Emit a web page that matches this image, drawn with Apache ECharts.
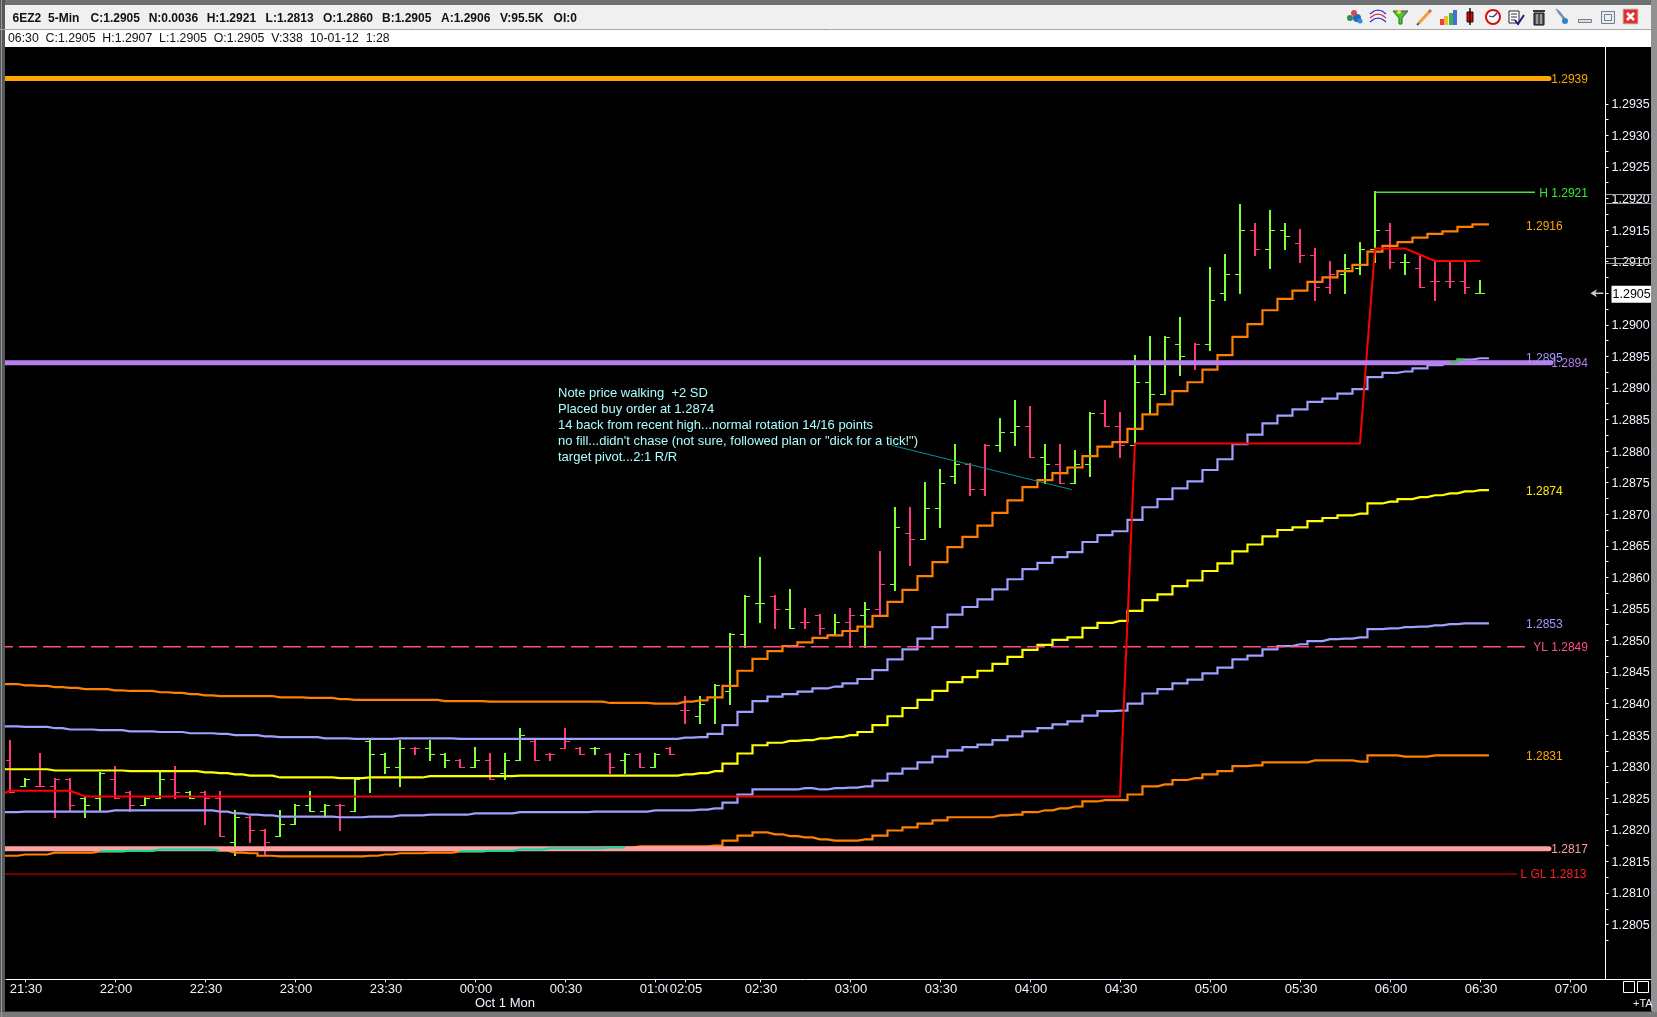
<!DOCTYPE html>
<html><head><meta charset="utf-8">
<style>html,body{margin:0;padding:0;background:#000;overflow:hidden}#c{width:1657px;height:1017px}</style>
<script src="https://cdn.jsdelivr.net/npm/echarts@6/dist/echarts.min.js"></script>
</head><body><div id="c"></div>
<script>
// ---- DATA ----
const barHigh=[1.2834,1.2828,1.2832,1.2828,1.2828,1.2825,1.2829,1.2830,1.2826,1.2825,
1.2829,1.2830,1.2826,1.2826,1.2826,1.2823,1.2822,1.2820,1.2823,1.2824,
1.2826,1.2824,1.2824,1.2828,1.2834,1.2832,1.2834,1.2833,1.2834,1.2832,
1.2831,1.2833,1.2832,1.2832,1.2836,1.2834,1.2832,1.2836,1.2833,1.2833,
1.2832,1.2832,1.2832,1.2832,1.2833,1.2841,1.2841,1.2843,1.2851,1.2857,
1.2863,1.2857,1.2858,1.2855,1.2854,1.2854,1.2855,1.2856,1.2864,1.2871,
1.2871,1.2875,1.2877,1.2881,1.2878,1.2881,1.2885,1.2888,1.2887,1.2881,
1.2881,1.2880,1.2886,1.2888,1.2886,1.2895,1.2898,1.2898,1.2901,1.2897,
1.2909,1.2911,1.2919,1.2916,1.2918,1.2916,1.2915,1.2912,1.2910,1.2911,
1.2913,1.2921,1.2916,1.2911,1.2911,1.2910,1.2910,1.2910,1.2907];
const barLow=[1.2826,1.2827,1.2827,1.2822,1.2823,1.2822,1.2823,1.2825,1.2823,1.2824,
1.2825,1.2825,1.2825,1.2821,1.2819,1.2816,1.2818,1.2816,1.2819,1.2821,
1.2823,1.2822,1.2820,1.2823,1.2826,1.2829,1.2827,1.2832,1.2831,1.2830,
1.2830,1.2830,1.2828,1.2828,1.2831,1.2831,1.2831,1.2833,1.2832,1.2832,
1.2829,1.2829,1.2830,1.2830,1.2832,1.2837,1.2837,1.2837,1.2840,1.2849,
1.2853,1.2852,1.2852,1.2852,1.2851,1.2851,1.2849,1.2849,1.2854,1.2858,
1.2862,1.2866,1.2868,1.2875,1.2873,1.2873,1.2880,1.2881,1.2879,1.2875,
1.2875,1.2875,1.2876,1.2884,1.2879,1.2881,1.2886,1.2889,1.2892,1.2893,
1.2896,1.2904,1.2905,1.2911,1.2909,1.2912,1.2910,1.2904,1.2905,1.2905,
1.2908,1.2910,1.2909,1.2908,1.2906,1.2904,1.2906,1.2905,1.2905];
const barOpen=[1.2831,1.2827,1.2827,1.2827,1.2828,1.2825,1.2825,1.2828,1.2826,1.2824,
1.2825,1.2828,1.2826,1.2826,1.2825,1.2818,1.2822,1.2820,1.2819,1.2821,
1.2824,1.2823,1.2824,1.2823,1.2834,1.2832,1.2830,1.2833,1.2833,1.2832,
1.2831,1.2830,1.2831,1.2829,1.2831,1.2834,1.2832,1.2833,1.2833,1.2833,
1.2832,1.2831,1.2832,1.2830,1.2833,1.2839,1.2838,1.2841,1.2842,1.2851,
1.2856,1.2857,1.2855,1.2853,1.2854,1.2851,1.2853,1.2854,1.2855,1.2859,
1.2867,1.2866,1.2871,1.2876,1.2878,1.2874,1.2881,1.2883,1.2884,1.2879,
1.2878,1.2875,1.2878,1.2886,1.2884,1.2881,1.2891,1.2889,1.2897,1.2894,
1.2897,1.2905,1.2908,1.2915,1.2912,1.2915,1.2913,1.2911,1.2906,1.2908,
1.2909,1.2912,1.2915,1.2910,1.2909,1.2907,1.2907,1.2907,1.2905];
const barClose=[1.2826,1.2828,1.2827,1.2828,1.2824,1.2824,1.2829,1.2825,1.2824,1.2825,
1.2828,1.2826,1.2825,1.2825,1.2819,1.2822,1.2820,1.2818,1.2821,1.2824,
1.2823,1.2824,1.2824,1.2828,1.2832,1.2830,1.2833,1.2833,1.2832,1.2831,
1.2830,1.2831,1.2828,1.2831,1.2835,1.2831,1.2832,1.2834,1.2832,1.2833,
1.2830,1.2832,1.2830,1.2832,1.2832,1.2839,1.2840,1.2843,1.2851,1.2857,
1.2856,1.2855,1.2852,1.2853,1.2852,1.2853,1.2854,1.2855,1.2859,1.2868,
1.2866,1.2871,1.2875,1.2878,1.2874,1.2881,1.2883,1.2884,1.2879,1.2878,
1.2875,1.2878,1.2886,1.2884,1.2881,1.2891,1.2889,1.2898,1.2895,1.2897,
1.2904,1.2908,1.2915,1.2912,1.2915,1.2914,1.2911,1.2906,1.2908,1.2909,
1.2912,1.2915,1.2910,1.2910,1.2906,1.2907,1.2907,1.2906,1.2905];
const barTone=['pgpppggppg','gpgppgppgg','ggpggggpgg','pgpggppppg','pgpgppgggg','gpgppgpgpg','pgggppggpg','pggppggggp','gggpggpppg','ggpgppppg'].join('');
const orangeUpper=[1.28431,1.28429,1.28428,1.28426,1.28425,1.28423,1.28423,1.28421,1.28420,1.28420,
1.28418,1.28417,1.28415,1.28413,1.28412,1.28412,1.28412,1.28412,1.28410,1.28410,
1.28409,1.28409,1.28407,1.28406,1.28406,1.28406,1.28406,1.28406,1.28406,1.28404,
1.28404,1.28404,1.28403,1.28403,1.28403,1.28403,1.28403,1.28403,1.28403,1.28403,
1.28401,1.28401,1.28401,1.28400,1.28400,1.28403,1.28405,1.28410,1.28428,1.28452,
1.28471,1.28483,1.28491,1.28497,1.28504,1.28508,1.28515,1.28522,1.28539,1.28561,
1.28580,1.28602,1.28624,1.28648,1.28664,1.28682,1.28702,1.28722,1.28743,1.28754,
1.28765,1.28774,1.28792,1.28807,1.28814,1.28835,1.28858,1.28874,1.28895,1.28909,
1.28929,1.28952,1.28981,1.29001,1.29023,1.29041,1.29054,1.29068,1.29075,1.29085,
1.29095,1.29116,1.29125,1.29131,1.29138,1.29144,1.29148,1.29155,1.29159];
const lilacUpper=[1.28364,1.28363,1.28363,1.28361,1.28359,1.28359,1.28358,1.28358,1.28356,1.28356,
1.28355,1.28355,1.28353,1.28353,1.28352,1.28350,1.28350,1.28348,1.28347,1.28347,
1.28347,1.28345,1.28345,1.28344,1.28344,1.28344,1.28345,1.28345,1.28345,1.28345,
1.28344,1.28344,1.28344,1.28344,1.28344,1.28344,1.28344,1.28344,1.28344,1.28344,
1.28344,1.28344,1.28344,1.28344,1.28344,1.28346,1.28347,1.28352,1.28366,1.28387,
1.28404,1.28411,1.28415,1.28419,1.28424,1.28427,1.28432,1.28439,1.28453,1.28470,
1.28486,1.28503,1.28521,1.28541,1.28553,1.28565,1.28581,1.28597,1.28613,1.28623,
1.28632,1.28640,1.28656,1.28667,1.28673,1.28691,1.28711,1.28724,1.28741,1.28752,
1.28770,1.28787,1.28811,1.28826,1.28844,1.28856,1.28866,1.28878,1.28883,1.28891,
1.28898,1.28917,1.28924,1.28926,1.28931,1.28936,1.28941,1.28945,1.28947];
const yellowMid=[1.28296,1.28296,1.28296,1.28294,1.28294,1.28294,1.28294,1.28294,1.28293,1.28293,
1.28293,1.28293,1.28293,1.28291,1.28290,1.28288,1.28286,1.28286,1.28283,1.28283,
1.28283,1.28283,1.28282,1.28282,1.28283,1.28283,1.28283,1.28283,1.28285,1.28285,
1.28285,1.28285,1.28285,1.28285,1.28286,1.28286,1.28286,1.28286,1.28286,1.28286,
1.28286,1.28286,1.28286,1.28286,1.28286,1.28288,1.28290,1.28293,1.28305,1.28321,
1.28334,1.28338,1.28341,1.28342,1.28345,1.28347,1.28350,1.28355,1.28366,1.28380,
1.28393,1.28406,1.28420,1.28434,1.28442,1.28452,1.28463,1.28474,1.28485,1.28493,
1.28501,1.28505,1.28520,1.28528,1.28531,1.28547,1.28564,1.28573,1.28586,1.28595,
1.28610,1.28622,1.28641,1.28652,1.28665,1.28675,1.28679,1.28689,1.28694,1.28698,
1.28701,1.28717,1.28720,1.28724,1.28727,1.28730,1.28733,1.28736,1.28738];
const lilacLower=[1.28228,1.28229,1.28229,1.28229,1.28229,1.28229,1.28229,1.28231,1.28231,1.28231,
1.28231,1.28231,1.28231,1.28231,1.28229,1.28226,1.28224,1.28223,1.28221,1.28221,
1.28221,1.28221,1.28220,1.28220,1.28221,1.28221,1.28223,1.28223,1.28224,1.28224,
1.28224,1.28226,1.28226,1.28226,1.28228,1.28228,1.28228,1.28228,1.28228,1.28229,
1.28229,1.28229,1.28229,1.28231,1.28231,1.28231,1.28232,1.28234,1.28243,1.28256,
1.28264,1.28264,1.28264,1.28266,1.28264,1.28266,1.28267,1.28269,1.28278,1.28289,
1.28297,1.28307,1.28316,1.28326,1.28331,1.28335,1.28342,1.28348,1.28356,1.28361,
1.28367,1.28372,1.28381,1.28388,1.28389,1.28400,1.28416,1.28423,1.28432,1.28438,
1.28448,1.28457,1.28470,1.28476,1.28486,1.28491,1.28494,1.28499,1.28502,1.28503,
1.28505,1.28518,1.28519,1.28521,1.28522,1.28524,1.28526,1.28527,1.28527];
const orangeLower=[1.28159,1.28161,1.28161,1.28164,1.28164,1.28164,1.28166,1.28166,1.28167,1.28167,
1.28169,1.28169,1.28169,1.28169,1.28167,1.28164,1.28163,1.28159,1.28158,1.28158,
1.28158,1.28158,1.28158,1.28158,1.28159,1.28161,1.28163,1.28163,1.28164,1.28164,
1.28166,1.28166,1.28167,1.28167,1.28169,1.28169,1.28171,1.28171,1.28171,1.28171,
1.28172,1.28172,1.28174,1.28174,1.28174,1.28174,1.28174,1.28175,1.28183,1.28191,
1.28196,1.28193,1.28190,1.28188,1.28185,1.28183,1.28183,1.28185,1.28191,1.28199,
1.28204,1.28210,1.28215,1.28220,1.28220,1.28220,1.28223,1.28224,1.28228,1.28231,
1.28234,1.28237,1.28245,1.28247,1.28247,1.28256,1.28269,1.28272,1.28279,1.28282,
1.28288,1.28293,1.28301,1.28302,1.28307,1.28307,1.28307,1.28310,1.28310,1.28310,
1.28308,1.28318,1.28318,1.28316,1.28316,1.28318,1.28318,1.28318,1.28318];
const redLine=[1.28262,1.28262,1.28262,1.28262,1.28262,1.28253,1.28253,1.28253,1.28253,1.28253,
1.28253,1.28253,1.28253,1.28253,1.28253,1.28253,1.28253,1.28253,1.28253,1.28253,
1.28253,1.28253,1.28253,1.28253,1.28253,1.28253,1.28253,1.28253,1.28253,1.28253,
1.28253,1.28253,1.28253,1.28253,1.28253,1.28253,1.28253,1.28253,1.28253,1.28253,
1.28253,1.28253,1.28253,1.28253,1.28253,1.28253,1.28253,1.28253,1.28253,1.28253,
1.28253,1.28253,1.28253,1.28253,1.28253,1.28253,1.28253,1.28253,1.28253,1.28253,
1.28253,1.28253,1.28253,1.28253,1.28253,1.28253,1.28253,1.28253,1.28253,1.28253,
1.28253,1.28253,1.28253,1.28253,1.28253,1.28812,1.28812,1.28812,1.28812,1.28812,
1.28812,1.28812,1.28812,1.28812,1.28812,1.28812,1.28812,1.28812,1.28812,1.28812,
1.28812,1.29121,1.29121,1.29121,1.29111,1.29101,1.29101,1.29101,1.29101];
const redStart=1.28252;
const levelTop=1.2939, levelHigh=1.2921, levelPivot=1.2894, levelYL=1.2849, levelPink=1.2817, levelLow=1.2813;
const trendPrices=[1.28809,1.28739];
const priceTicks=[1.2805,1.2810,1.2815,1.2820,1.2825,1.2830,1.2835,1.2840,1.2845,1.2850,1.2855,1.2860,1.2865,1.2870,1.2875,1.2880,1.2885,1.2890,1.2895,1.2900,1.2905,1.2910,1.2915,1.2920,1.2925,1.2930,1.2935];
const priceMinorTicks=[1.28025,1.28075,1.28125,1.28175,1.28225,1.28275,1.28325,1.28375,1.28425,1.28475,1.28525,1.28575,1.28625,1.28675,1.28725,1.28775,1.28825,1.28875,1.28925,1.28975,1.29025,1.29075,1.29125,1.29175,1.29225,1.29275,1.29325];
const currentPrice=1.2905;
const timeTickBars=[1,7,13,19,25,31,37,43,45,50,56,62,68,74,80,86,92,98,104];
const timeLabels=['21:30','22:00','22:30','23:00','23:30','00:00','00:30','01:00','02:05','02:30','03:00','03:30','04:00','04:30','05:00','05:30','06:00','06:30','07:00'];
const noteLines=['Note price walking  +2 SD','Placed buy order at 1.2874','14 back from recent high...normal rotation 14/16 points','no fill...didn\'t chase (not sure, followed plan or "dick for a tick!")','target pivot...2:1 R/R'];
const headerParts=['6EZ2','5-Min','C:1.2905','N:0.0036','H:1.2921','L:1.2813','O:1.2860','B:1.2905','A:1.2906','V:95.5K','OI:0'];
const dataLine='06:30  C:1.2905  H:1.2907  L:1.2905  O:1.2905  V:338  10-01-12  1:28';
const lineTags=[['1.2939',levelTop],['H 1.2921',levelHigh],['1.2916',1.29157],['1.2895',1.28948],['1.2894',levelPivot],['1.2874',1.28738],['1.2853',1.28527],['YL 1.2849',levelYL],['1.2831',1.28318],['1.2817',levelPink],['L GL 1.2813',levelLow]];

// ---- STYLE / LAYOUT ----
const GREEN='#80ff33',PINK='#ff3580',ORANGE='#ff8000',LILAC='#a0a0ff',YELLOW='#ffff00',RED='#ff0000';
const FONT='"Liberation Sans",Arial,sans-serif';
const tagStyle=[[102.75,'#ffa500'],[101.95,'#33ee33'],[101.07,'#ffa500'],[101.07,'#9c9cff'],[102.75,'#b07fe8'],[101.07,'#ffee00'],[101.07,'#9c9cff'],[101.55,'#ff4d80'],[101.07,'#ffa500'],[102.75,'#ff9f9f'],[100.7,'#ff2020']];
const X0=-0.267,X1=106.37,Y0=1.27963,Y1=1.2944;
const xy=(vals)=>{const d=[[-1,vals[0]]];vals.forEach((v,i)=>d.push([i,v]));d.push([98.6,vals[vals.length-1]]);return d;};
const stepLine=(vals,color,name)=>({type:'line',name,step:'middle',showSymbol:false,symbol:'none',z:3,silent:true,animation:false,data:xy(vals),lineStyle:{color,width:2.2,cap:'butt',join:'miter'}});
const level=(p,a,b,color,width,extra)=>({type:'line',showSymbol:false,symbol:'none',silent:true,animation:false,z:(width>3?5:3),data:[[a,p],[b,p]],lineStyle:Object.assign({color,width,cap:width>3?'round':'butt'},extra||{})});
const rangeOf=(vals,a,b)=>{const d=[];for(let i=a;i<=b;i++)d.push([i,vals[i]]);return d;};

const barsSeries={type:'custom',z:2,silent:true,animation:false,clip:true,
  data:barHigh.map((h,i)=>[i,h,barLow[i],barOpen[i],barClose[i]]),
  encode:{x:0,y:[1,2,3,4]},
  renderItem(params,api){
    const i=api.value(0),c=barTone[params.dataIndex]==='g'?GREEN:PINK;
    const pH=api.coord([i,api.value(1)]),pL=api.coord([i,api.value(2)]),pO=api.coord([i,api.value(3)]),pC=api.coord([i,api.value(4)]);
    const x=Math.round(pH[0]);
    const r=(a,b,w,h)=>({type:'rect',shape:{x:a,y:b,width:w,height:h},style:{fill:c}});
    return {type:'group',children:[
      r(x-1,Math.round(pH[1])-1,2,Math.round(pL[1])-Math.round(pH[1])+2),
      r(x-5,Math.round(pO[1]),5,1),
      r(x,Math.round(pC[1]),5,1)
    ]};
  }};
const tagSeries={type:'custom',z:7,silent:true,animation:false,clip:false,
  data:lineTags.map((t,i)=>[tagStyle[i][0],t[1]]),encode:{x:0,y:1},
  renderItem(params,api){
    const p=api.coord([api.value(0),api.value(1)]),k=params.dataIndex;
    return {type:'text',style:{text:lineTags[k][0],x:p[0],y:p[1]+1,fill:tagStyle[k][1],font:'12px '+FONT,align:'left',verticalAlign:'middle'}};
  }};

const series=[
  barsSeries,
  stepLine(orangeUpper,ORANGE,'upper2'),
  stepLine(lilacUpper,LILAC,'upper1'),
  stepLine(yellowMid,YELLOW,'mid'),
  stepLine(lilacLower,LILAC,'lower1'),
  stepLine(orangeLower,ORANGE,'lower2'),
  {type:'line',showSymbol:false,symbol:'none',silent:true,animation:false,z:4,data:[[-1,redStart]].concat(redLine.map((v,i)=>[i,v])),lineStyle:{color:RED,width:2}},
  level(levelTop,-1,102.6,'#ffa500',5),
  level(levelPivot,-1,102.73,'#b97ff0',5),
  level(levelPink,-1,102.6,'#ffa0a0',5),
  level(levelHigh,91,101.67,'#3ce63c',1.4),
  level(levelYL,-1,101.2,'#ff4d80',1.4,{type:[18,6]}),
  level(levelLow,-1,100.47,'#f00000',1),
  {type:'line',step:'middle',showSymbol:false,symbol:'none',silent:true,animation:false,z:6,data:rangeOf(orangeLower,6,14),lineStyle:{color:'#00e0a0',width:2}},
  {type:'line',step:'middle',showSymbol:false,symbol:'none',silent:true,animation:false,z:6,data:rangeOf(orangeLower,30,41),lineStyle:{color:'#00e0a0',width:2}},
  {type:'line',step:'middle',showSymbol:false,symbol:'none',silent:true,animation:false,z:6,data:rangeOf(lilacUpper,96,97),lineStyle:{color:'#33cc33',width:2}},
  {type:'line',showSymbol:false,symbol:'none',silent:true,animation:false,z:6,data:[[58.78,trendPrices[0]],[70.78,trendPrices[1]]],lineStyle:{color:'#0a8f8f',width:1}},
  {type:'scatter',silent:true,animation:false,z:7,symbol:'path://M0 5 L7 0 L5.5 4 L14 4 L14 6 L5.5 6 L7 10 Z',symbolSize:[13,8],data:[[105.8,currentPrice]],itemStyle:{color:'#fff'}},
  tagSeries
];

// ---- WINDOW CHROME ----
const g=[];
const rect=(x,y,w,h,fill,stroke,lw)=>g.push({type:'rect',silent:true,z:20,shape:{x,y,width:w,height:h},style:{fill:fill||'none',stroke:stroke||null,lineWidth:lw||1}});
const seg=(a,b,c,d,stroke,lw)=>g.push({type:'line',silent:true,z:21,shape:{x1:a,y1:b,x2:c,y2:d},style:{stroke,lineWidth:lw||1}});
const poly=(pts,fill,stroke,lw)=>g.push({type:fill?'polygon':'polyline',silent:true,z:21,shape:{points:pts},style:{fill:fill||'none',stroke:stroke||null,lineWidth:lw||1}});
const circ=(x,y,r,fill,stroke,lw)=>g.push({type:'circle',silent:true,z:21,shape:{cx:x,cy:y,r},style:{fill:fill||'none',stroke:stroke||null,lineWidth:lw||1}});
const txt=(t,x,y,fill,font,extra)=>g.push({type:'text',silent:true,z:22,style:Object.assign({text:t,x,y,fill,font,verticalAlign:'middle',align:'left'},extra||{})});
rect(0,0,1657,5,'#6e7072');
rect(0,5,1657,24,'#f0f0f0');
seg(0,29.5,1651,29.5,'#a8a8a8',1);
rect(0,30,1657,17,'#ffffff');
rect(0,0,5,1017,'#55585a');
seg(1.5,0,1.5,1017,'#9a9a9a',1);
rect(1651,0,6,1017,'#8f9193');
rect(0,1012,1657,5,'#77797b');
seg(4,1011.5,1652,1011.5,'#333',1);
const headX=[12.5,48,90.6,148.7,206.7,265.6,323,382,441,500,553.6];
headerParts.forEach((t,i)=>txt(t,headX[i],19,'#111','bold 12px '+FONT));
txt(dataLine,8,39,'#111','12.3px '+FONT);
noteLines.forEach((t,i)=>txt(t,558,393+16*i,'#aaffff','13px '+FONT));
txt('Oct 1 Mon',475,1003,'#f0f4ff','13px '+FONT);
txt('+TA',1633,1004,'#f0f4ff','11px '+FONT);
rect(1623.5,981.5,11,11,null,'#fff',1);rect(1637.5,981.5,11,11,null,'#fff',1);
seg(1605,979.5,1651,979.5,'#fff',1);
seg(1606,194.5,1651,194.5,'#a0a0a0',1);seg(1606,203.5,1651,203.5,'#a0a0a0',1);
seg(1606,258.5,1651,258.5,'#a0a0a0',1);seg(1606,263.5,1651,263.5,'#a0a0a0',1);
// toolbar icons
circ(1357,18,4,'#1f66c8');circ(1354,13,3,'#d04a4a');circ(1350,18,3,'#2f8a55');circ(1360,21,2.5,'#3090e0');
[[0,'#2030e0'],[4,'#e02030'],[8,'#2030e0']].forEach(a=>poly([[1370,14+a[0]],[1374,11+a[0]],[1378,10+a[0]],[1382,11+a[0]],[1386,14+a[0]]],null,a[1],1.2));
poly([[1393,11],[1408,11],[1402,18],[1402,24],[1399,24],[1399,18]],'#44cc33','#207020',1);circ(1399,12,2,'#ffe020');circ(1404,12,1.5,'#c040c0');
seg(1419,23,1430,11,'#f0a030',3);seg(1419,23,1417,25,'#555',2);seg(1429,12,1431,10,'#e06060',3);
rect(1440,19,4,6,'#e84040');rect(1444,16,4,9,'#f0c030');rect(1449,13,4,12,'#40b040');rect(1453,10,4,15,'#4070e0');
seg(1470,8,1470,25,'#111',1.5);rect(1467,12,6,10,'#ee0000','#111',1);
circ(1493,17,7,'#fff','#d01010',2);seg(1493,17,1497,13,'#203080',1.2);seg(1493,17,1489,16,'#203080',1.2);
rect(1509,11,10,12,'#fff','#222',1);seg(1511,14,1517,14,'#333',1);seg(1511,17,1517,17,'#333',1);seg(1511,20,1515,20,'#333',1);poly([[1515,20],[1518,24],[1524,15]],null,'#1a2080',2);
rect(1534,13,10,12,'#555','#111',1);rect(1533,10,12,2,'#333');seg(1537,14,1537,24,'#ddd',1);seg(1541,14,1541,24,'#ddd',1);
seg(1558,11,1566,21,'#6a90b0',2.5);circ(1565,21,3,'#3a80d0');seg(1556,9,1560,13,'#889',1.5);
rect(1578.5,19.5,13,3,'#dde','#70808a',1);
rect(1601.5,11.5,13,12,'#e8eaf0','#70808a',1);rect(1604.5,14.5,7,6,'#f0f0f0','#70808a',1);
rect(1623,9,15,15,'#e03030','#c8c8c8',1);seg(1627,13,1634,20,'#fff',2.5);seg(1634,13,1627,20,'#fff',2.5);

const chart=echarts.init(document.getElementById('c'),null,{renderer:'canvas'});
chart.setOption({
  animation:false,backgroundColor:'#000',tooltip:{show:false},legend:{show:false},
  grid:{left:6,top:47,width:1599.5,height:932.5,containLabel:false},
  graphic:{elements:g},
  xAxis:{type:'value',min:X0,max:X1,splitLine:{show:false},
    axisLine:{show:true,onZero:false,lineStyle:{color:'#fff',width:1}},
    axisTick:{show:true,length:3,inside:false,customValues:timeTickBars,lineStyle:{color:'#fff'}},
    axisLabel:{show:true,color:'#f0f4ff',fontSize:13,fontFamily:FONT,margin:3,hideOverlap:false,customValues:timeTickBars,
      backgroundColor:'#000',padding:[0,0,0,2],
      formatter:v=>timeLabels[timeTickBars.indexOf(Math.round(v))]||''}},
  yAxis:{type:'value',min:Y0,max:Y1,position:'right',splitLine:{show:false},
    axisLine:{show:true,onZero:false,lineStyle:{color:'#fff',width:1}},
    axisTick:{show:true,length:3,customValues:priceTicks.concat(priceMinorTicks),lineStyle:{color:'#fff'}},
    axisLabel:{show:true,color:'#f0f4ff',fontSize:12.5,fontFamily:FONT,margin:6,hideOverlap:false,customValues:priceTicks,padding:[2,0,0,0],
      formatter:v=>Math.abs(v-currentPrice)<1e-7?'{cur|'+v.toFixed(4)+'}':v.toFixed(4),
      rich:{cur:{backgroundColor:'#fff',color:'#000',fontSize:12.5,fontFamily:FONT,padding:[2,1,2,1]}}}},
  series
});
</script></body></html>
